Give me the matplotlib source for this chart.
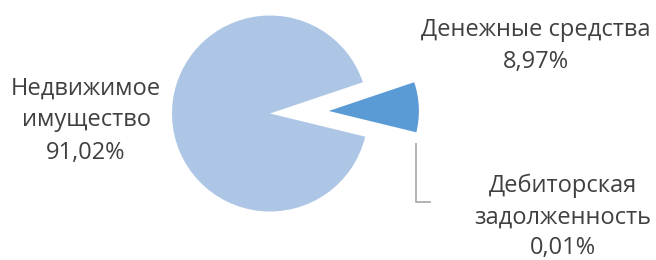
import matplotlib
matplotlib.use("Agg")
import matplotlib.pyplot as plt

labels = ["Денежные средства", "Дебиторская задолженность", "Недвижимое имущество"]
values = [8.97, 0.01, 91.02]
label_texts = ["Денежные средства\n8,97%", "Дебиторская\nзадолженность\n0,01%", "Недвижимое\nимущество\n91,02%"]
colors = ["#5b9bd5", "#4a7fb8", "#adc6e5"]

W, H = 656, 260
fig = plt.figure(figsize=(W / 100, H / 100), dpi=100)
ax = fig.add_axes([0, 0, 1, 1])

cx, cy, R = 270, H - 113.5, 98
wedges, _ = ax.pie(values, colors=colors, startangle=18.6, counterclock=False,
                   explode=[0.6 * R, 0, 0], radius=R, center=(cx, cy),
                   wedgeprops=dict(linewidth=0), frame=True)
wedges[0].set_radius(R * 0.92)
ax.set_xlim(0, W)
ax.set_ylim(0, H)
ax.set_aspect("equal")
ax.axis("off")

font = dict(family="Open Sans", fontsize=17, color="#404040", ha="center", va="center", linespacing=1.45)
ax.text(536, H - 46, label_texts[0], **font)
ax.text(563, H - 217, label_texts[1], **dict(font, linespacing=1.38))
ax.text(86, H - 120.5, label_texts[2], **font)

# leader line for tiny slice
ax.plot([416, 416, 431], [H - 143, H - 202, H - 202], color="#a6a6a6", lw=1.2, solid_capstyle="butt")

fig.savefig("out.png", dpi=100)
